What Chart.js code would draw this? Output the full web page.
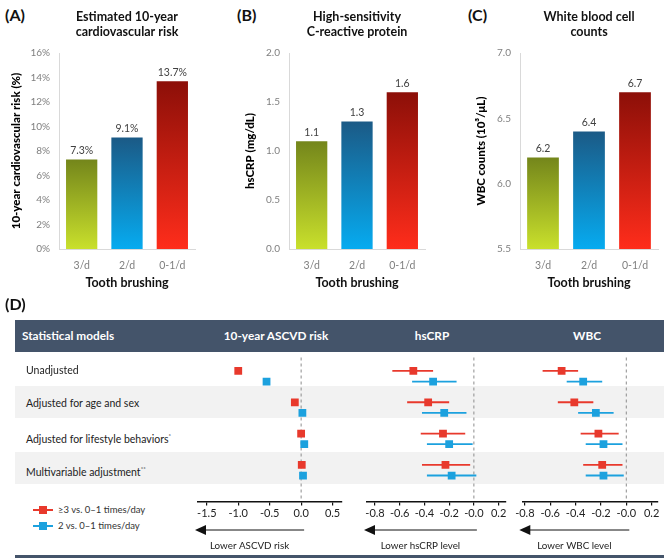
<!DOCTYPE html>
<html>
<head>
<meta charset="utf-8">
<script src="https://cdn.jsdelivr.net/npm/chart.js@4.4.1/dist/chart.umd.min.js"></script>
<style>
  body { margin: 0; background: #fff; font-family: Lato, sans-serif; }
  #wrap { position: relative; width: 669px; height: 558px; overflow: hidden; }
  .abs { position: absolute; white-space: nowrap; }
  canvas { position: absolute; }
  .tag { font-weight: bold; font-size: 16px; color: #111; line-height: 20px; }
  .bg { left: 15px; width: 649px; }
  .htxt { color: #fff; font-weight: bold; font-size: 11.8px; top: 328px; line-height: 16px; }
  .rtxt { font-size: 10.5px; color: #222; left: 26px; line-height: 16px; }
  .rtxt sup { font-size: 6px; }
  .leg { font-size: 9.5px; color: #333; line-height: 14px; }
</style>
</head>
<body>
<div id="wrap">
  <div class="abs tag" style="left:5px;top:5px">(A)</div>
  <div class="abs tag" style="left:237px;top:5px">(B)</div>
  <div class="abs tag" style="left:468px;top:5px">(C)</div>
  <canvas id="risk-chart" width="222" height="296" style="left:0;top:0"></canvas>
  <canvas id="crp-chart" width="222" height="296" style="left:222px;top:0"></canvas>
  <canvas id="wbc-chart" width="225" height="296" style="left:444px;top:0"></canvas>

  <div class="abs tag" style="left:5px;top:294px">(D)</div>
  <div class="abs bg" style="top:320px;height:32px;background:#44546a"></div>
  <div class="abs htxt" style="left:22px">Statistical models</div>
  <div class="abs htxt" style="left:196px;width:160px;text-align:center">10-year ASCVD risk</div>
  <div class="abs htxt" style="left:372px;width:120px;text-align:center">hsCRP</div>
  <div class="abs htxt" style="left:527px;width:120px;text-align:center">WBC</div>
  <div class="abs bg" style="top:386px;height:32px;background:#f2f2f2"></div>
  <div class="abs bg" style="top:452px;height:32px;background:#f2f2f2"></div>
  <div class="abs bg" style="top:555px;height:3px;background:#44546a"></div>
  <div id="row-labels"></div>

  <div class="abs" style="left:33px;top:509px;width:20px;height:2px;background:#e8392c"></div>
  <div class="abs" style="left:39px;top:506px;width:8px;height:8px;background:#e8392c"></div>
  <div class="abs leg" style="left:58px;top:503px">≥3 vs. 0–1 times/day</div>
  <div class="abs" style="left:33px;top:525px;width:20px;height:2px;background:#1ca1de"></div>
  <div class="abs" style="left:39px;top:522px;width:8px;height:8px;background:#1ca1de"></div>
  <div class="abs leg" style="left:58px;top:519px">2 vs. 0–1 times/day</div>

  <canvas id="ascvd-forest" width="178" height="204" style="left:180px;top:352px"></canvas>
  <canvas id="crp-forest" width="156" height="204" style="left:358px;top:352px"></canvas>
  <canvas id="wbc-forest" width="155" height="204" style="left:514px;top:352px"></canvas>
</div>

<script>
// panels A-C: tooth brushing groups
const brushing = ['3/d', '2/d', '0-1/d'];
const riskValues = [7.3, 9.1, 13.7];
const crpValues = [1.1, 1.3, 1.6];
const wbcValues = [6.2, 6.4, 6.7];

// panel D: [estimate, lower, upper] for each model
const models = ['Unadjusted', 'Adjusted for age and sex', 'Adjusted for lifestyle behaviors', 'Multivariable adjustment'];
const modelMarks = ['', '', '*', '**'];
const ascvd3 = [[-1.0, -1.05, -0.95], [-0.1, -0.14, -0.06], [0.0, -0.04, 0.04], [0.01, -0.03, 0.05]];
const ascvd2 = [[-0.55, -0.6, -0.5], [0.02, -0.02, 0.06], [0.05, 0.01, 0.09], [0.03, -0.01, 0.07]];
const crp3 = [[-0.49, -0.66, -0.33], [-0.37, -0.54, -0.2], [-0.25, -0.43, -0.07], [-0.23, -0.42, -0.03]];
const crp2 = [[-0.33, -0.5, -0.14], [-0.24, -0.42, -0.06], [-0.2, -0.38, -0.01], [-0.18, -0.38, 0.02]];
const wbc3 = [[-0.51, -0.66, -0.38], [-0.41, -0.54, -0.26], [-0.22, -0.36, -0.06], [-0.19, -0.34, -0.03]];
const wbc2 = [[-0.34, -0.47, -0.19], [-0.24, -0.38, -0.1], [-0.18, -0.32, -0.03], [-0.18, -0.32, -0.02]];
const ascvdTicks = ['-1.5', '-1.0', '-0.5', '0.0', '0.5'];
const labTicks = ['-0.8', '-0.6', '-0.4', '-0.2', '-0.0', '0.2'];

const FONT = 'Lato, sans-serif';
const RED = '#e8392c';
const BLUE = '#1ca1de';
const barStops = [['#74861b', '#c9e02c'], ['#1b5a86', '#06abf0'], ['#8c0f08', '#ff2d1b']];

const labels = document.getElementById('row-labels');
models.forEach((m, i) => {
  const d = document.createElement('div');
  d.className = 'abs rtxt';
  d.style.top = (362 + i * 33) + 'px';
  d.innerHTML = m + (modelMarks[i] ? '<sup>' + modelMarks[i] + '</sup>' : '');
  labels.appendChild(d);
});

const barLabels = {
  id: 'barLabels',
  afterDatasetsDraw(chart, args, opts) {
    const ctx = chart.ctx;
    ctx.save();
    ctx.font = '10.5px ' + FONT;
    ctx.fillStyle = '#404040';
    ctx.textAlign = 'center';
    ctx.textBaseline = 'middle';
    chart.getDatasetMeta(0).data.forEach((bar, i) => {
      ctx.fillText(opts.fmt(chart.data.datasets[0].data[i]), bar.x, bar.y - 9);
    });
    ctx.restore();
  }
};

function barChart(id, values, o) {
  new Chart(document.getElementById(id), {
    type: 'bar',
    data: {
      labels: brushing,
      datasets: [{
        data: values,
        backgroundColor: ctx => {
          const chart = ctx.chart;
          const area = chart.chartArea;
          const stops = barStops[ctx.dataIndex];
          if (!area || ctx.type !== 'data') return stops[0];
          const top = chart.scales.y.getPixelForValue(ctx.raw);
          const g = chart.ctx.createLinearGradient(0, top, 0, area.bottom);
          g.addColorStop(0, stops[0]);
          g.addColorStop(1, stops[1]);
          return g;
        },
        barPercentage: 0.69,
        categoryPercentage: 1
      }]
    },
    options: {
      responsive: false,
      animation: false,
      layout: { padding: { left: o.padLeft, right: o.padRight, top: 0, bottom: 2 } },
      plugins: {
        legend: { display: false },
        tooltip: { enabled: false },
        title: {
          display: true,
          fullSize: false,
          text: o.title,
          color: '#111',
          font: { family: FONT, size: 12.5, weight: 'bold', lineHeight: 1.2 },
          padding: { top: 9.5, bottom: 13.5 }
        },
        barLabels: { fmt: o.fmt }
      },
      scales: {
        x: {
          grid: { display: false, drawTicks: false },
          border: { display: true, color: '#d9d9d9' },
          ticks: { color: '#7f7f7f', font: { family: FONT, size: 10.5 }, padding: 10 },
          title: { display: true, text: 'Tooth brushing', color: '#111', font: { family: FONT, size: 12.5, weight: 'bold' }, padding: { top: 4, bottom: 4 } },
          afterFit: s => { s.height = 45; }
        },
        y: {
          min: o.min, max: o.max,
          grid: { display: false, drawTicks: false },
          border: { display: true, color: '#d9d9d9' },
          ticks: { stepSize: o.step, color: '#7f7f7f', font: { family: FONT, size: 10 }, padding: 9, callback: o.tick },
          title: { display: true, text: o.yTitle, color: '#000', font: { family: FONT, size: 11.5, weight: '900' } },
          afterFit: s => { s.width = o.yWidth; }
        }
      }
    },
    plugins: [barLabels]
  });
}

barChart('risk-chart', riskValues, {
  title: ['Estimated 10-year', 'cardiovascular risk'],
  yTitle: '10-year cardiovascular risk (%)',
  min: 0, max: 16, step: 2,
  tick: v => v + '%',
  fmt: v => v.toFixed(1) + '%',
  padLeft: 5, padRight: 27, yWidth: 54
});
barChart('crp-chart', crpValues, {
  title: ['High-sensitivity', 'C-reactive protein'],
  yTitle: 'hsCRP (mg/dL)',
  min: 0, max: 2, step: 0.5,
  tick: v => v.toFixed(1),
  fmt: v => v.toFixed(1),
  padLeft: 17, padRight: 19, yWidth: 50
});
barChart('wbc-chart', wbcValues, {
  title: ['White blood cell', 'counts'],
  yTitle: 'WBC counts (10³/μL)',
  min: 5.5, max: 7, step: 0.5,
  tick: v => v.toFixed(1),
  fmt: v => v.toFixed(1),
  padLeft: 26, padRight: 11, yWidth: 50
});

const forestDraw = {
  id: 'forestDraw',
  beforeDatasetsDraw(chart) {
    const ctx = chart.ctx;
    const x = chart.scales.x;
    const y = chart.scales.y;
    const area = chart.chartArea;
    ctx.save();
    ctx.strokeStyle = '#8c8c8c';
    ctx.lineWidth = 1;
    ctx.setLineDash([3, 3]);
    ctx.beginPath();
    ctx.moveTo(x.getPixelForValue(0), area.top);
    ctx.lineTo(x.getPixelForValue(0), area.bottom);
    ctx.stroke();
    ctx.setLineDash([]);
    ctx.lineWidth = 1.8;
    chart.data.datasets.forEach(ds => {
      ctx.strokeStyle = ds.borderColor;
      ds.data.forEach(p => {
        const py = y.getPixelForValue(p.y);
        ctx.beginPath();
        ctx.moveTo(x.getPixelForValue(p.lo), py);
        ctx.lineTo(x.getPixelForValue(p.hi), py);
        ctx.stroke();
      });
    });
    ctx.restore();
  },
  afterDraw(chart, args, opts) {
    const ctx = chart.ctx;
    const x = chart.scales.x;
    const x0 = x.getPixelForValue(0) + 3;
    const x1 = x.left - 3;
    const ay = 178;
    ctx.save();
    ctx.strokeStyle = '#111';
    ctx.fillStyle = '#111';
    ctx.lineWidth = 1;
    ctx.beginPath();
    ctx.moveTo(x0, ay);
    ctx.lineTo(x1 + 10, ay);
    ctx.stroke();
    ctx.beginPath();
    ctx.moveTo(x1, ay);
    ctx.lineTo(x1 + 11, ay - 5);
    ctx.lineTo(x1 + 11, ay + 5);
    ctx.closePath();
    ctx.fill();
    ctx.font = '9.8px ' + FONT;
    ctx.fillStyle = '#222';
    ctx.textAlign = 'center';
    ctx.textBaseline = 'middle';
    ctx.fillText(opts.text, (x0 + x1) / 2, 194);
    ctx.restore();
  }
};

function forest(id, rows3, rows2, tickLabels, o) {
  const pts = (rows, off) => rows.map((r, i) => ({ x: r[0], y: i + off, lo: r[1], hi: r[2] }));
  new Chart(document.getElementById(id), {
    type: 'scatter',
    data: {
      datasets: [
        { label: '≥3 vs. 0–1 times/day', data: pts(rows3, -0.17), backgroundColor: RED, borderColor: RED, pointStyle: 'rect', pointRadius: 5.5, borderWidth: 0 },
        { label: '2 vs. 0–1 times/day', data: pts(rows2, 0.17), backgroundColor: BLUE, borderColor: BLUE, pointStyle: 'rect', pointRadius: 5.5, borderWidth: 0 }
      ]
    },
    options: {
      responsive: false,
      animation: false,
      layout: { padding: { left: o.padLeft, right: o.padRight, top: 0, bottom: 0 } },
      plugins: { legend: { display: false }, tooltip: { enabled: false }, forestDraw: { text: o.arrowText } },
      scales: {
        x: {
          min: o.min, max: o.max,
          afterBuildTicks: s => { s.ticks = tickLabels.map(t => ({ value: Number(t) })); },
          ticks: { callback: (v, i) => tickLabels[i], color: '#222', font: { family: FONT, size: 11 }, padding: 1, maxRotation: 0, autoSkip: false },
          grid: { drawOnChartArea: false, drawTicks: true, tickLength: 4, color: '#111', lineWidth: 1.2 },
          border: { color: '#111', width: 1.5 },
          afterFit: s => { s.height = 54.5; }
        },
        y: { display: false, min: -0.6, max: 4, reverse: true }
      }
    },
    plugins: [forestDraw]
  });
}

forest('ascvd-forest', ascvd3, ascvd2, ascvdTicks, { min: -1.64, max: 0.65, padLeft: 18, padRight: 16, arrowText: 'Lower ASCVD risk' });
forest('crp-forest', crp3, crp2, labTicks, { min: -0.865, max: 0.26, padLeft: 9, padRight: 8, arrowText: 'Lower hsCRP level' });
forest('wbc-forest', wbc3, wbc2, labTicks, { min: -0.82, max: 0.25, padLeft: 7, padRight: 11, arrowText: 'Lower WBC level' });
</script>
</body>
</html>
